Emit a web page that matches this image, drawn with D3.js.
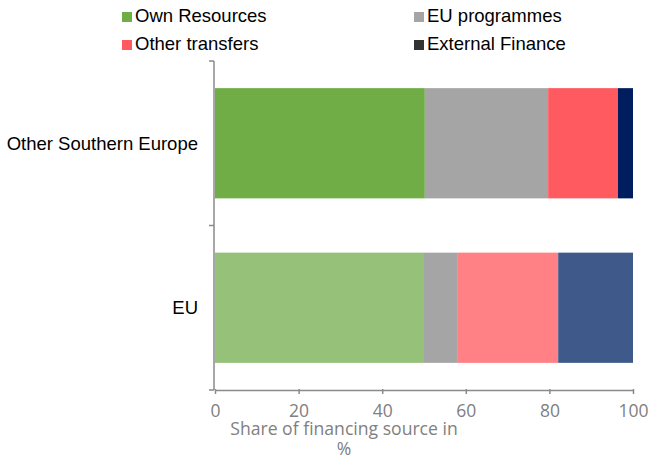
<!DOCTYPE html>
<html><head><meta charset="utf-8">
<script src="https://cdn.jsdelivr.net/npm/d3@7"></script>
<style>body{margin:0;background:#fff}svg{display:block}</style>
</head><body>
<svg id="c" width="648" height="460"></svg>
<script>
const categories = ["Other Southern Europe", "EU"];
const seriesNames = ["Own Resources", "EU programmes", "Other transfers", "External Finance"];
const ownResources = [50.2, 50.0];
const euProgrammes = [29.5, 8.1];
const otherTransfers = [16.7, 24.0];
const externalFinance = [3.6, 17.9];
const xTicks = [0, 20, 40, 60, 80, 100];

const barColors = [
  ["#70AD47", "#A5A5A5", "#FF5A5F", "#001E5E"],
  ["#95C178", "#A5A5A5", "#FF8085", "#3F5A8A"]
];
const legendColors = ["#70AD47", "#A5A5A5", "#FF5A5F", "#333333"];

const svg = d3.select("#c");
const x = d3.scaleLinear().domain([0, 100]).range([215, 633]);
const y = d3.scaleBand().domain(categories).range([61, 390]).paddingInner(0.33).paddingOuter(0.165);

const rows = categories.map((c, i) => ({cat: c, vals: [ownResources[i], euProgrammes[i], otherTransfers[i], externalFinance[i]]}));
rows.forEach((r, i) => {
  let acc = 0;
  r.vals.forEach((v, j) => {
    svg.append("rect")
      .attr("x", x(acc)).attr("y", y(r.cat))
      .attr("width", x(acc + v) - x(acc)).attr("height", y.bandwidth())
      .attr("fill", barColors[i][j]);
    acc += v;
  });
});

// x axis
const xAxis = svg.append("g").attr("transform", "translate(0,390)")
  .call(d3.axisBottom(x).tickValues(xTicks).tickSize(5).tickSizeOuter(0));
xAxis.select(".domain").attr("stroke", "#8a8a8a").attr("stroke-width", 1.5);
xAxis.selectAll(".tick line").attr("stroke", "#8a8a8a").attr("stroke-width", 1.5).attr("y1", -1).attr("y2", 4);
xAxis.selectAll(".tick text").attr("fill", "#808080").attr("font-family", "Open Sans, sans-serif")
  .attr("font-size", 17.5).attr("y", 27).attr("dy", null);

// y axis
const yLine = svg.append("g");
yLine.append("line").attr("x1", 214).attr("x2", 214).attr("y1", 61).attr("y2", 390)
  .attr("stroke", "#8a8a8a").attr("stroke-width", 1.5);
[61, 225.5, 390].forEach(v => {
  yLine.append("line").attr("x1", 209).attr("x2", 214).attr("y1", v).attr("y2", v)
    .attr("stroke", "#8a8a8a").attr("stroke-width", 1.5);
});
categories.forEach(c => {
  svg.append("text").attr("x", 198).attr("y", y(c) + y.bandwidth() / 2)
    .attr("dy", "0.35em").attr("text-anchor", "end")
    .attr("font-family", "Liberation Sans, Arial, sans-serif").attr("font-size", 18.5)
    .attr("fill", "#000").text(c);
});

// axis title
const title = svg.append("text").attr("text-anchor", "middle").attr("fill", "#808080")
  .attr("font-family", "Open Sans, sans-serif").attr("font-size", 17.6);
title.append("tspan").attr("x", 344).attr("y", 435).text("Share of financing source in");
title.append("tspan").attr("x", 344).attr("y", 455).text("%");

// legend
const legPos = [[122, 12], [414, 12], [122, 40], [414, 40]];
seriesNames.forEach((s, i) => {
  const [lx, ly] = legPos[i];
  svg.append("rect").attr("x", lx).attr("y", ly).attr("width", 10).attr("height", 10).attr("fill", legendColors[i]);
  svg.append("text").attr("x", lx + 13).attr("y", ly + 10)
    .attr("font-family", "Liberation Sans, Arial, sans-serif").attr("font-size", 18.5)
    .attr("fill", "#000").text(s);
});
</script>
</body></html>
